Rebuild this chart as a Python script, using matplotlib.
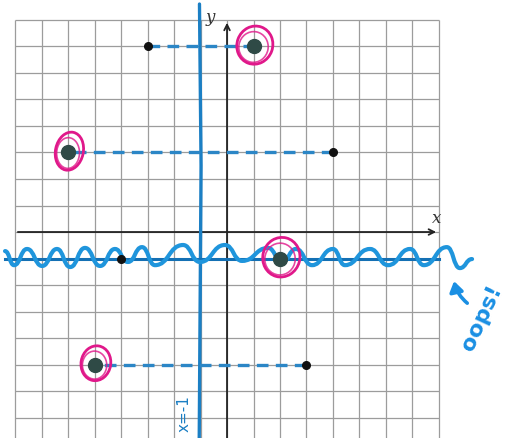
import matplotlib
matplotlib.use("Agg")
import matplotlib.pyplot as plt
from matplotlib.patches import Ellipse, PathPatch, FancyArrowPatch
from matplotlib.path import Path

# graph paper extent (grid units)
grid_x = list(range(-8, 9))
grid_y = list(range(-7, 9))

# open dots at the far end of each dashed segment
end_x = [-3, 4, -4, 3]
end_y = [7, 3, -1, -5]

# circled answer points
pt_x = [1, -6, 2, -5]
pt_y = [7, 3, -1, -5]
ring_w = [1.35, 1.05, 1.40, 1.12]
ring_h = [1.45, 1.45, 1.50, 1.32]
ring_ang = [-20, -12, -15, -10]

# hand scribbled wave along y = -1
wave_x = [-8.38, -8.04, -7.55, -6.98, -6.42, -5.92, -5.36, -4.79, -4.23, -3.74,
          -3.21, -2.72, -1.66, -1.02, -0.08, 0.57, 1.55, 2.08, 2.60, 3.21,
          4.00, 4.45, 5.40, 6.08, 6.91, 7.43, 8.30, 8.79, 9.25]
wave_y = [-0.72, -1.25, -0.64, -1.28, -0.64, -1.32, -0.60, -1.28, -0.64, -1.13,
          -0.57, -1.25, -0.49, -1.13, -0.49, -1.09, -0.60, -1.13, -0.64, -1.25,
          -0.64, -1.25, -0.64, -1.25, -0.64, -1.25, -0.57, -1.36, -1.02]

mirror_x = -1

fig = plt.figure(figsize=(5.11, 4.39), dpi=100)
ax = fig.add_axes([0, 0, 1, 1])
ax.set_xlim(-8.57, 10.72)
ax.set_ylim(-7.77, 8.79)
ax.axis("off")

grid_col = "#9c9c9c"
ax.vlines(grid_x, -7.9, 8, color=grid_col, lw=0.9, zorder=1)
ax.hlines(grid_y, -8, 8, color=grid_col, lw=0.9, zorder=1)

# coordinate axes
ax.annotate("", xy=(8.0, 0), xytext=(-8, 0),
            arrowprops=dict(arrowstyle="->", color="#222222", lw=1.3), zorder=2)
ax.annotate("", xy=(0, 8.0), xytext=(0, -7.9),
            arrowprops=dict(arrowstyle="->", color="#222222", lw=1.3), zorder=2)
ax.text(7.9, 0.55, "x", fontsize=12, style="italic", family="DejaVu Serif",
        color="#333333", ha="center", va="center")
ax.text(-0.62, 8.12, "y", fontsize=12, style="italic", family="DejaVu Serif",
        color="#333333", ha="center", va="center")

# line of reflection x = -1
ax.plot([mirror_x - 0.04, mirror_x + 0.02, mirror_x - 0.05], [8.6, 2.5, -7.9],
        color="#1b7fc4", lw=2.4, solid_capstyle="round", zorder=3)
ax.text(mirror_x - 0.62, -6.1, "x=-1", rotation=90, fontsize=11,
        color="#1b7fc4", ha="center", va="top", zorder=3)

# dashed connectors
blue_dash = "#2b86c6"
for x0, x1, y in zip(end_x, pt_x, end_y):
    if y == -1:
        continue
    ax.plot([x0, x1], [y, y], color=blue_dash, lw=2.4, ls=(0, (3.5, 2.2)), zorder=3)
ax.plot([-8.4, 8.0], [-1, -1], color="#1470b4", lw=2.2, zorder=3)

# wave drawn as smooth bezier strokes between the scribble turning points
verts = [(wave_x[0], wave_y[0])]
codes = [Path.MOVETO]
for i in range(1, len(wave_x)):
    x0, y0 = wave_x[i - 1], wave_y[i - 1]
    x1, y1 = wave_x[i], wave_y[i]
    d = 0.5 * (x1 - x0)
    verts += [(x0 + d, y0), (x1 - d, y1), (x1, y1)]
    codes += [Path.CURVE4] * 3
ax.add_patch(PathPatch(Path(verts, codes), fill=False, edgecolor="#1f95dc",
                       lw=3.0, capstyle="round", joinstyle="round", zorder=4))

# points
ax.plot(end_x, end_y, "o", color="#111111", ms=5.5, zorder=5)
ax.plot(pt_x, pt_y, "o", color="#2f4a46", ms=10, zorder=5)
for x, y, w, h, a in zip(pt_x, pt_y, ring_w, ring_h, ring_ang):
    ax.add_patch(Ellipse((x + 0.05, y + 0.05), w, h, angle=a, fill=False,
                         edgecolor="#e0188a", lw=2.0, zorder=6))
    ax.add_patch(Ellipse((x, y - 0.02), w * 0.82, h * 0.8, angle=a + 10, fill=False,
                         edgecolor="#e0188a", lw=1.2, alpha=0.8, zorder=6))

# note at the right end of the wave
ax.add_patch(FancyArrowPatch((9.15, -2.75), (8.55, -1.75),
                             arrowstyle="-|>,head_length=6,head_width=4",
                             connectionstyle="arc3,rad=-0.2",
                             color="#1a8fe3", lw=2.6, zorder=6))
ax.text(9.6, -3.2, "oops!", rotation=65, fontsize=16, fontweight="bold",
        color="#1a8fe3", ha="center", va="center", zorder=6)

fig.savefig("out.png", dpi=100)
